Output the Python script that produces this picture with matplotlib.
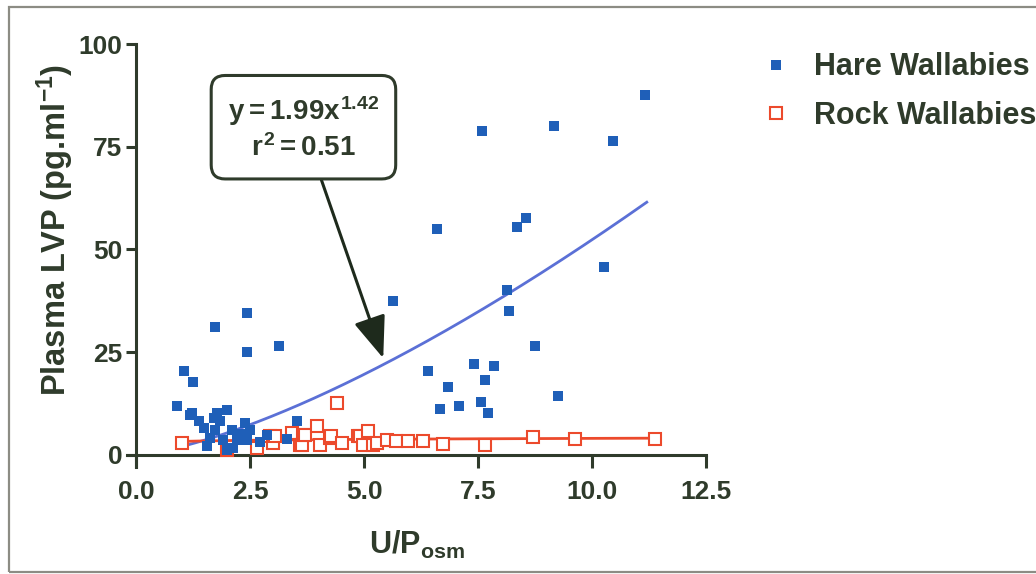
import numpy as np
import matplotlib
matplotlib.use('Agg')
import matplotlib.pyplot as plt
from matplotlib.patches import Rectangle

# ============================
# Data
# ============================
hare_x = [0.89, 1.04, 1.24, 1.73, 2.43, 2.43, 3.14, 1.18, 1.22, 1.37, 1.48,
          1.77, 1.99, 1.84, 1.73, 1.62, 1.55, 1.91, 2.10, 2.21, 2.39, 2.50,
          2.13, 2.43, 2.72, 2.87, 3.30, 3.52, 2.00, 1.70, 2.30,
          5.64, 6.61, 7.58, 9.17, 10.45, 11.16, 8.35, 8.55, 10.26, 8.14,
          8.17, 8.74, 6.40, 7.40, 7.85, 7.65, 6.83, 9.26, 6.67, 7.09, 7.56, 7.71]
hare_y = [11.8, 20.3, 17.8, 31.0, 34.5, 24.9, 26.4, 9.7, 10.1, 8.1, 6.5,
          10.1, 10.9, 8.1, 6.1, 4.1, 2.0, 3.6, 6.1, 3.6, 7.7, 6.1,
          1.6, 3.6, 3.2, 4.9, 3.8, 8.3, 1.2, 9.0, 5.0,
          37.5, 55.0, 78.8, 80.1, 76.3, 87.6, 55.5, 57.7, 45.7, 40.1,
          34.9, 26.4, 20.5, 22.1, 21.7, 18.1, 16.5, 14.4, 11.1, 11.9, 12.8, 10.1]

rock_x = [1.00, 1.99, 2.65, 2.94, 3.01, 3.04, 3.41, 3.60, 3.63, 3.67, 3.71,
          3.96, 4.04, 4.25, 4.28, 4.40, 4.51, 4.87, 4.91, 4.98, 5.09, 5.20,
          5.28, 5.50, 5.71, 5.97, 6.30, 6.74, 7.65, 8.71, 9.63, 11.38]
rock_y = [2.8, 1.2, 1.7, 4.5, 2.8, 4.5, 5.3, 2.4, 2.4, 4.9, 4.9,
          6.9, 2.4, 4.1, 4.5, 12.6, 2.8, 4.5, 4.5, 2.4, 5.7, 2.4,
          2.8, 3.6, 3.4, 3.4, 3.4, 2.6, 2.4, 4.2, 3.9, 3.9]

# power fits y = a * x^b  (a, b, x start, x end)
hare_fit = (1.99, 1.42, 0.9, 11.2)
rock_fit = (3.23, 0.09, 0.89, 11.4)

x_ticks = [0.0, 2.5, 5.0, 7.5, 10.0, 12.5]
y_ticks = [0, 25, 50, 75, 100]

# ============================
# Style
# ============================
plt.rcParams['font.family'] = ['Liberation Sans', 'DejaVu Sans']
plt.rcParams['font.weight'] = 'bold'
plt.rcParams['mathtext.fontset'] = 'custom'
plt.rcParams['mathtext.rm'] = 'Liberation Sans:bold'
plt.rcParams['mathtext.bf'] = 'Liberation Sans:bold'
plt.rcParams['mathtext.it'] = 'Liberation Sans:bold'

dark = '#2f3b2b'
blue = '#1f5fb8'
red = '#ec4a2c'
blue_line = '#5b70d6'

fig = plt.figure(figsize=(10.36, 5.74), dpi=100)
ax = fig.add_axes([0.1226, 0.1864, 0.5589, 0.7369])

# outer frame
fig.patches.append(Rectangle((9 / 1036, 2 / 574), 1.2, 565 / 574,
                             transform=fig.transFigure, fill=False,
                             edgecolor='#8c8c84', linewidth=1.6, zorder=0))

# fit lines
for (a, b, x0, x1), col in [(hare_fit, blue_line), (rock_fit, red)]:
    xs = np.linspace(x0, x1, 200)
    ax.plot(xs, a * xs ** b, color=col, linewidth=2, zorder=2)

ax.plot(rock_x, rock_y, linestyle='none', marker='s', markersize=8.3,
        markerfacecolor='white', markeredgecolor=red, markeredgewidth=1.5,
        zorder=3, label='Rock Wallabies')
ax.plot(hare_x, hare_y, linestyle='none', marker='s', markersize=7.8,
        color=blue, markeredgewidth=0, zorder=4, label='Hare Wallabies')

# annotation box with arrow
ax.annotate('$y = 1.99x^{1.42}$\n$r^2 = 0.51$', xy=(5.42, 23.5), xytext=(3.67, 79.5),
            ha='center', va='center', fontsize=20, color=dark, linespacing=1.3,
            bbox=dict(boxstyle='round,pad=0.6,rounding_size=0.5', fc='white',
                      ec=dark, lw=2.2),
            arrowprops=dict(arrowstyle='-|>,head_length=1.3,head_width=0.5',
                            color='#1e2a1c', lw=2.2, shrinkA=0, shrinkB=0),
            zorder=5)

# ============================
# Axes formatting
# ============================
ax.set_xlim(-0.2, 12.5)
ax.set_ylim(-3, 100)
ax.spines['right'].set_visible(False)
ax.spines['top'].set_visible(False)
ax.spines['bottom'].set_position(('data', 0))
ax.spines['left'].set_position(('data', 0))
for s in ['bottom', 'left']:
    ax.spines[s].set_color(dark)
    ax.spines[s].set_linewidth(2.2)
ax.spines['left'].set_bounds(-3, 100)
ax.spines['bottom'].set_bounds(-0.2, 12.5)

ax.set_xticks(x_ticks)
ax.set_xticklabels([f'{v:.1f}' for v in x_ticks])
ax.set_yticks(y_ticks)
ax.tick_params(axis='both', colors=dark, width=2.2, labelsize=19, direction='out')
ax.tick_params(axis='x', length=9, pad=9)
ax.tick_params(axis='y', length=7, pad=3)

ax.set_xlabel('U/P$_{\\mathrm{osm}}$', fontsize=22, fontweight='bold', color=dark)
ax.set_ylabel('Plasma LVP (pg.ml$^{\\mathrm{-1}}$)', fontsize=23.5, fontweight='bold',
              color=dark)
ax.xaxis.set_label_coords(0.5, -0.147)
ax.yaxis.set_label_coords(-0.088, 0.56)

handles, labels = ax.get_legend_handles_labels()
ax.legend(handles[::-1], labels[::-1], loc='upper left', bbox_to_anchor=(1.05, 1.045),
          frameon=False, fontsize=22, labelcolor=dark, handletextpad=0.8,
          handlelength=0.9, labelspacing=0.6)

plt.savefig('out.png', dpi=100)
